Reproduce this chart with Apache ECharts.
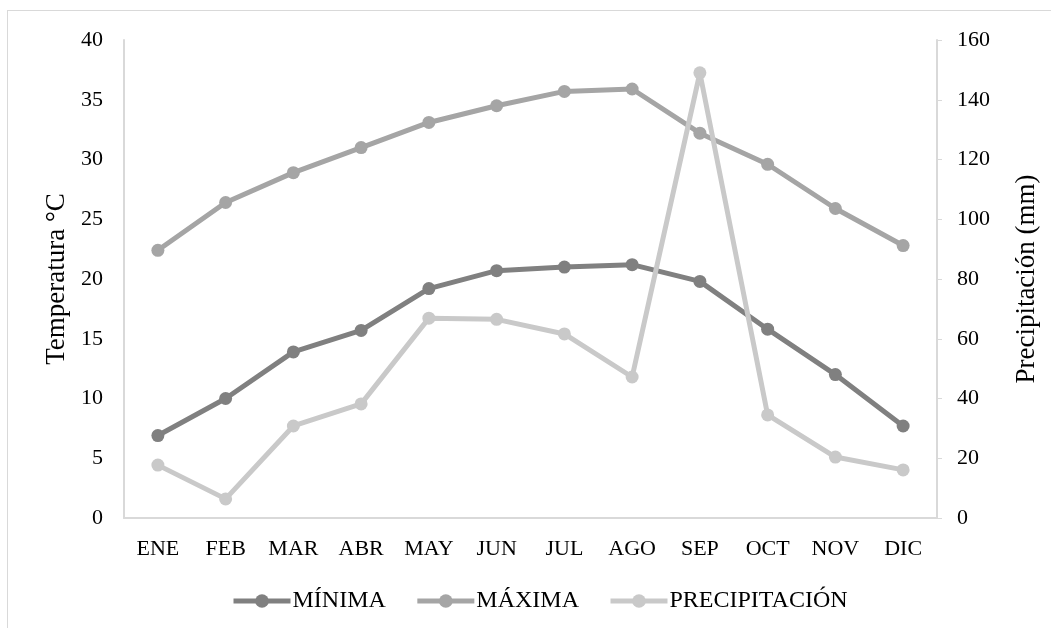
<!DOCTYPE html>
<html><head><meta charset="utf-8">
<script src="https://cdn.jsdelivr.net/npm/echarts@6/dist/echarts.min.js"></script>
<style>
html,body{margin:0;padding:0;background:#fff;}
#frame{position:absolute;left:7px;top:10px;width:1060px;height:640px;border:1px solid #d9d9d9;box-sizing:border-box;}
#c{position:absolute;left:0;top:0;width:1051px;height:628px;}
</style></head>
<body>
<div id="frame"></div>
<div id="c"></div>
<script>
const months = ['ENE','FEB','MAR','ABR','MAY','JUN','JUL','AGO','SEP','OCT','NOV','DIC'];
const minima = [6.9, 10.0, 13.9, 15.7, 19.2, 20.7, 21.0, 21.2, 19.8, 15.8, 12.0, 7.7];
const maxima = [22.4, 26.4, 28.9, 31.0, 33.1, 34.5, 35.7, 35.9, 32.2, 29.6, 25.9, 22.8];
const precip = [17.7, 6.4, 30.8, 38.2, 66.9, 66.5, 61.6, 47.2, 149, 34.5, 20.4, 16.1];
const font = 'Liberation Serif, Times New Roman, serif';
const chart = echarts.init(document.getElementById('c'), null, {renderer:'canvas'});
const txt = {color:'#000', fontFamily:font, fontSize:22};
function s(name, data, color, yi){
  return {name, type:'line', data, yAxisIndex:yi, symbol:'circle', symbolSize:13,
    lineStyle:{width:5, color}, itemStyle:{color}, emphasis:{disabled:true}, z: yi===1?3:2};
}
chart.setOption({
  animation:false,
  grid:{left:124, right:114, top:40, bottom:110},
  legend:{top:584, left:226, itemWidth:57, itemHeight:17, itemGap:29,
    textStyle:{color:'#000', fontFamily:font, fontSize:24, padding:[0,0,0,-3]},
    lineStyle:{width:5},
    data:['MÍNIMA','MÁXIMA','PRECIPITACIÓN']},
  xAxis:{type:'category', data:months, boundaryGap:true,
    axisLine:{lineStyle:{color:'#d9d9d9', width:2}}, axisTick:{show:false},
    axisLabel:{...txt, margin:20}},
  yAxis:[
    {type:'value', min:0, max:40, interval:5, name:'Temperatura °C', nameLocation:'middle', nameGap:52,
      nameTextStyle:{...txt, fontSize:27}, axisLine:{show:true, lineStyle:{color:'#d9d9d9', width:2}},
      axisTick:{show:false}, splitLine:{show:false}, axisLabel:{...txt, margin:21}},
    {type:'value', min:0, max:160, interval:20, name:'Precipitación (mm)', nameLocation:'middle', nameGap:76,
      nameTextStyle:{...txt, fontSize:27}, position:'right', axisLine:{show:true, lineStyle:{color:'#d9d9d9', width:2}},
      axisTick:{show:true, length:5, lineStyle:{color:'#d9d9d9'}}, splitLine:{show:false}, axisLabel:{...txt, margin:20}}
  ],
  series:[
    s('MÍNIMA', minima, '#808080', 0),
    s('MÁXIMA', maxima, '#a5a5a5', 0),
    s('PRECIPITACIÓN', precip, '#c9c9c9', 1)
  ]
});
</script>
</body></html>
